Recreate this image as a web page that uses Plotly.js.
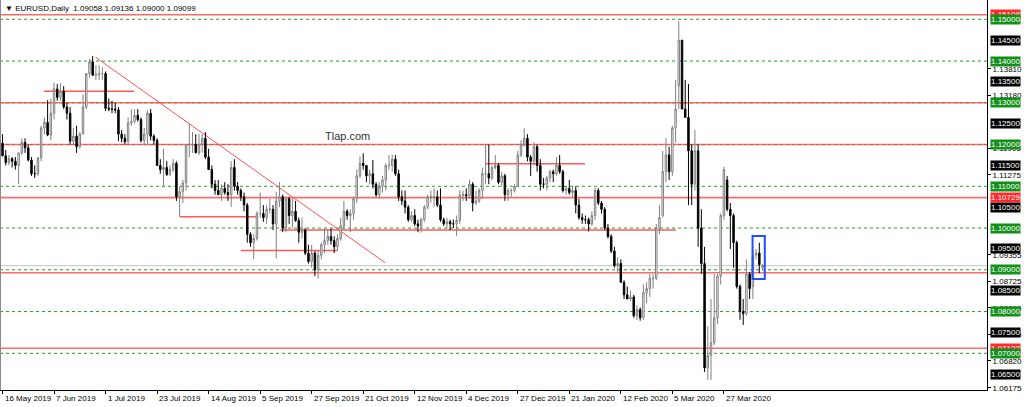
<!DOCTYPE html>
<html>
<head>
<meta charset="utf-8">
<script src="https://cdn.plot.ly/plotly-3.0.1.min.js"></script>
<style>
html,body{margin:0;padding:0;background:#fff;}
#chart{width:1024px;height:407px;}
</style>
</head>
<body>
<div id="chart"></div>
<script>
// ---- EURUSD Daily candles (bar index 0 = 16 May 2019) ----
const opens = [
1.1203,1.1173,1.1157,1.1166,1.1160,1.1150,1.1180,1.1205,1.1192,1.1163,
1.1130,1.1130,1.1168,1.1240,1.1253,1.1223,1.1275,1.1333,1.1313,1.1327,
1.1290,1.1275,1.1208,1.1220,1.1195,1.1225,1.1290,1.1370,1.1398,1.1366,
1.1368,1.1370,1.1370,1.1287,1.1285,1.1285,1.1283,1.1225,1.1215,1.1207,
1.1252,1.1255,1.1270,1.1260,1.1210,1.1225,1.1275,1.1220,1.1210,1.1150,
1.1140,1.1145,1.1128,1.1140,1.1155,1.1075,1.1087,1.1108,1.1200,1.1200,
1.1200,1.1180,1.1200,1.1215,1.1170,1.1140,1.1105,1.1090,1.1080,1.1095,
1.1085,1.1080,1.1145,1.1100,1.1090,1.1075,1.1055,1.0985,1.0965,1.0975,
1.1035,1.1035,1.1025,1.1045,1.1045,1.1010,1.1065,1.1075,1.1000,1.1070,
1.1030,1.1040,1.1018,1.0990,1.0995,1.0940,1.0920,1.0940,1.0900,1.0935,
1.0960,1.0970,1.0980,1.0970,1.0955,1.0975,1.1005,1.1040,1.1030,1.1035,
1.1070,1.1125,1.1155,1.1150,1.1125,1.1130,1.1105,1.1080,1.1100,1.1115,
1.1150,1.1150,1.1165,1.1130,1.1075,1.1065,1.1050,1.1020,1.1030,1.1010,
1.1005,1.1020,1.1050,1.1075,1.1075,1.1075,1.1055,1.1020,1.1010,1.1015,
1.1010,1.1010,1.1018,1.1078,1.1080,1.1077,1.1105,1.1060,1.1065,1.1090,
1.1130,1.1130,1.1120,1.1145,1.1150,1.1110,1.1125,1.1080,1.1090,1.1090,
1.1100,1.1175,1.1200,1.1215,1.1170,1.1160,1.1195,1.1150,1.1105,1.1105,
1.1120,1.1135,1.1130,1.1150,1.1135,1.1090,1.1095,1.1085,1.1090,1.1055,
1.1025,1.1020,1.1020,1.1010,1.1030,1.1090,1.1060,1.1045,1.1000,1.0980,
1.0945,1.0910,1.0915,1.0870,1.0840,1.0830,1.0835,1.0790,1.0805,1.0785,
1.0845,1.0855,1.0880,1.0880,1.1000,1.1030,1.1135,1.1175,1.1135,1.1240,
1.1340,1.1450,1.1285,1.1265,1.1185,1.1105,1.1185,1.1000,1.0915,1.0665,
1.0695,1.0725,1.0785,1.0885,1.1030,1.1115,1.1045,1.1030,1.0965,1.0860,
1.0800,1.0795,1.0890,1.0860,1.0935,1.0940,1.09058];
const highs = [
1.1225,1.1187,1.1175,1.1170,1.1170,1.1180,1.1215,1.1215,1.1200,1.1170,
1.1150,1.1170,1.1245,1.1265,1.1306,1.1310,1.1348,1.1345,1.1347,1.1340,
1.1300,1.1290,1.1240,1.1245,1.1230,1.1320,1.1370,1.1405,1.1412,1.1390,
1.1390,1.1385,1.1375,1.1310,1.1305,1.1300,1.1290,1.1235,1.1225,1.1265,
1.1285,1.1285,1.1285,1.1265,1.1240,1.1282,1.1285,1.1225,1.1215,1.1165,
1.1190,1.1160,1.1150,1.1165,1.1160,1.1100,1.1115,1.1200,1.1250,1.1230,
1.1225,1.1225,1.1225,1.1230,1.1190,1.1150,1.1115,1.1115,1.1105,1.1110,
1.1105,1.1160,1.1165,1.1110,1.1095,1.1085,1.1060,1.0990,1.0985,1.1040,
1.1085,1.1055,1.1055,1.1070,1.1055,1.1087,1.1110,1.1080,1.1075,1.1075,
1.1070,1.1065,1.1025,1.1025,1.1000,1.0960,1.0960,1.0945,1.0945,1.0965,
1.0998,1.0998,1.0999,1.0980,1.0985,1.1025,1.1065,1.1045,1.1045,1.1075,
1.1140,1.1172,1.1179,1.1150,1.1140,1.1163,1.1110,1.1110,1.1125,1.1155,
1.1175,1.1175,1.1175,1.1140,1.1090,1.1090,1.1055,1.1040,1.1045,1.1020,
1.1025,1.1055,1.1080,1.1090,1.1095,1.1090,1.1095,1.1025,1.1025,1.1020,
1.1020,1.1030,1.1090,1.1090,1.1095,1.1116,1.1110,1.1090,1.1095,1.1145,
1.1200,1.1200,1.1150,1.1175,1.1155,1.1135,1.1130,1.1095,1.1095,1.1105,
1.1185,1.1210,1.1239,1.1225,1.1175,1.1205,1.1200,1.1165,1.1120,1.1125,
1.1140,1.1140,1.1170,1.1175,1.1140,1.1100,1.1115,1.1100,1.1100,1.1070,
1.1035,1.1030,1.1025,1.1040,1.1096,1.1095,1.1065,1.1050,1.1010,1.0985,
1.0955,1.0930,1.0925,1.0875,1.0860,1.0850,1.0840,1.0815,1.0810,1.0865,
1.0870,1.0890,1.0890,1.1010,1.1055,1.1185,1.1215,1.1195,1.1245,1.1355,
1.1495,1.1450,1.1355,1.1345,1.1200,1.1235,1.1200,1.1045,1.0955,1.0765,
1.0830,1.0890,1.0890,1.1035,1.1147,1.1125,1.1060,1.1035,1.0970,1.0865,
1.0830,1.0925,1.0895,1.0950,1.0950,1.0965,1.09136];
const lows = [
1.1172,1.1150,1.1150,1.1145,1.1140,1.1105,1.1175,1.1180,1.1160,1.1125,
1.1120,1.1125,1.1160,1.1225,1.1220,1.1210,1.1260,1.1305,1.1305,1.1285,
1.1260,1.1200,1.1200,1.1180,1.1190,1.1225,1.1285,1.1360,1.1365,1.1355,
1.1355,1.1355,1.1280,1.1280,1.1275,1.1275,1.1208,1.1205,1.1200,1.1200,
1.1245,1.1250,1.1255,1.1205,1.1200,1.1200,1.1210,1.1200,1.1150,1.1130,
1.1100,1.1125,1.1125,1.1135,1.1065,1.1027,1.1060,1.1090,1.1170,1.1180,
1.1180,1.1175,1.1180,1.1165,1.1140,1.1095,1.1080,1.1080,1.1065,1.1080,
1.1065,1.1050,1.1090,1.1080,1.1065,1.1040,1.0965,1.0955,1.0926,1.0970,
1.1025,1.1015,1.1010,1.1035,1.0995,1.0927,1.1050,1.0990,1.0990,1.1010,
1.1000,1.1015,1.0965,1.0975,1.0935,1.0915,1.0905,1.0885,1.0879,1.0925,
1.0940,1.0960,1.0960,1.0940,1.0945,1.0970,1.0995,1.1020,1.0990,1.1020,
1.1060,1.1120,1.1140,1.1110,1.1105,1.1095,1.1075,1.1070,1.1085,1.1090,
1.1140,1.1135,1.1125,1.1065,1.1055,1.1035,1.1015,1.1015,1.1005,1.0990,
1.0989,1.1015,1.1045,1.1060,1.1050,1.1050,1.1015,1.1005,1.1000,1.0995,
1.1000,1.0981,1.1010,1.1065,1.1065,1.1070,1.1040,1.1055,1.1060,1.1070,
1.1105,1.1105,1.1115,1.1140,1.1105,1.1100,1.1065,1.1065,1.1075,1.1085,
1.1100,1.1170,1.1195,1.1160,1.1125,1.1150,1.1135,1.1090,1.1095,1.1090,
1.1110,1.1110,1.1125,1.1130,1.1085,1.1080,1.1080,1.1075,1.1035,1.1020,
1.1010,1.1010,1.0992,1.1005,1.1020,1.1055,1.1035,1.0995,1.0975,1.0940,
1.0905,1.0895,1.0870,1.0830,1.0830,1.0825,1.0785,1.0780,1.0778,1.0780,
1.0820,1.0835,1.0855,1.0875,1.0985,1.1025,1.1110,1.1115,1.1125,1.1205,
1.1285,1.1285,1.1265,1.1055,1.1055,1.1090,1.0955,1.0890,1.0655,1.0636,
1.0636,1.0720,1.0770,1.0865,1.1020,1.1040,1.0950,1.0905,1.0855,1.0780,
1.0768,1.0790,1.0830,1.0830,1.0925,1.0892,1.09000];
const closes = [
1.1173,1.1157,1.1166,1.1160,1.1150,1.1180,1.1205,1.1192,1.1163,1.1130,
1.1130,1.1168,1.1240,1.1253,1.1223,1.1275,1.1333,1.1313,1.1327,1.1290,
1.1275,1.1208,1.1220,1.1195,1.1225,1.1290,1.1370,1.1398,1.1366,1.1368,
1.1370,1.1370,1.1287,1.1285,1.1285,1.1283,1.1225,1.1215,1.1207,1.1252,
1.1255,1.1270,1.1260,1.1210,1.1225,1.1275,1.1220,1.1210,1.1150,1.1140,
1.1145,1.1128,1.1140,1.1155,1.1075,1.1087,1.1108,1.1200,1.1200,1.1200,
1.1180,1.1200,1.1215,1.1170,1.1140,1.1105,1.1090,1.1080,1.1095,1.1085,
1.1080,1.1145,1.1100,1.1090,1.1075,1.1055,1.0985,1.0965,1.0975,1.1035,
1.1035,1.1025,1.1045,1.1045,1.1010,1.1065,1.1075,1.1000,1.1070,1.1030,
1.1040,1.1018,1.0990,1.0995,1.0940,1.0920,1.0940,1.0900,1.0935,1.0960,
1.0970,1.0980,1.0970,1.0955,1.0975,1.1005,1.1040,1.1030,1.1035,1.1070,
1.1125,1.1155,1.1150,1.1125,1.1130,1.1105,1.1080,1.1100,1.1115,1.1150,
1.1150,1.1165,1.1130,1.1075,1.1065,1.1050,1.1020,1.1030,1.1010,1.1005,
1.1020,1.1050,1.1075,1.1075,1.1075,1.1055,1.1020,1.1010,1.1015,1.1010,
1.1010,1.1018,1.1078,1.1080,1.1077,1.1105,1.1060,1.1065,1.1090,1.1130,
1.1130,1.1120,1.1145,1.1150,1.1110,1.1125,1.1080,1.1090,1.1090,1.1100,
1.1175,1.1200,1.1215,1.1170,1.1160,1.1195,1.1150,1.1105,1.1105,1.1120,
1.1135,1.1130,1.1150,1.1135,1.1090,1.1095,1.1085,1.1090,1.1055,1.1025,
1.1020,1.1020,1.1010,1.1030,1.1090,1.1060,1.1045,1.1000,1.0980,1.0945,
1.0910,1.0915,1.0870,1.0840,1.0830,1.0835,1.0790,1.0805,1.0785,1.0845,
1.0855,1.0880,1.0880,1.1000,1.1025,1.1135,1.1175,1.1135,1.1240,1.1285,
1.1450,1.1285,1.1265,1.1185,1.1105,1.1185,1.1000,1.0915,1.0665,1.0695,
1.0725,1.0785,1.0885,1.1030,1.1140,1.1045,1.1030,1.0965,1.0860,1.0800,
1.0795,1.0890,1.0855,1.0935,1.0940,1.0912,1.09099];

// ---- axis labels ----
const dateTickIdx = [0,16,32,48,64,80,96,112,128,144,160,176,192,208,224];
const dateTickText = ["16 May 2019","7 Jun 2019","1 Jul 2019","23 Jul 2019","14 Aug 2019","5 Sep 2019",
  "27 Sep 2019","21 Oct 2019","12 Nov 2019","4 Dec 2019","27 Dec 2019","21 Jan 2020","12 Feb 2020",
  "5 Mar 2020","27 Mar 2020"];
const plainPriceTicks = [1.13810,1.13180,1.11905,1.11275,1.09355,1.08725,1.08090,1.07455,1.06820,1.06175];
const blackPriceLabels = [1.145,1.135,1.125,1.115,1.105,1.095,1.085,1.075,1.065];
const redPriceLabels = [1.15108,1.10729,1.07122];
const greenPriceLabels = [1.15,1.14,1.13,1.12,1.11,1.10,1.09,1.08,1.07];

// ---- drawn analysis objects ----
const greenDashLevels = [1.15,1.14,1.13,1.12,1.11,1.10,1.09,1.08,1.07];
const redLevels = [1.15108,1.1300,1.1200,1.10729,1.0893,1.07122];
// short red segments: start bar, end bar, price
const redSegStart = [12.9, 55.1, 74.0, 86.2, 150.1];
const redSegEnd   = [40.8, 79.3, 103.9, 209.1, 180.9];
const redSegPrice = [1.13275, 1.10272, 1.09461, 1.09953, 1.11541];
const trendBars = [28.9, 118.8];
const trendPrices = [1.1409, 1.0917];
const boxBars = [232.9, 236.7];
const boxPrices = [1.0878, 1.0981];
const bidPrice = 1.09099;

const FONT = 'Liberation Sans, Arial, sans-serif';
const idx = opens.map((_, i) => i);

const trace = {
  type: 'candlestick',
  x: idx, open: opens, high: highs, low: lows, close: closes,
  increasing: {line: {color: '#808080', width: 1}, fillcolor: '#ffffff'},
  decreasing: {line: {color: '#000000', width: 1}, fillcolor: '#000000'},
  whiskerwidth: 0,
  hoverinfo: 'skip'
};

const shapes = [];
greenDashLevels.forEach(p => shapes.push({type:'line', xref:'paper', x0:0, x1:1, yref:'y', y0:p, y1:p,
  line:{color:'#22a022', width:1, dash:'3px,3px'}, layer:'below'}));
shapes.push({type:'line', xref:'paper', x0:0, x1:1, yref:'y', y0:bidPrice, y1:bidPrice,
  line:{color:'#c4c4c4', width:1}, layer:'below'});
redLevels.forEach(p => shapes.push({type:'line', xref:'paper', x0:0, x1:1, yref:'y', y0:p, y1:p,
  line:{color:'rgba(255,70,70,0.8)', width:1.6}, layer:'below'}));
redSegPrice.forEach((p, i) => shapes.push({type:'line', xref:'x', x0:redSegStart[i], x1:redSegEnd[i],
  yref:'y', y0:p, y1:p, line:{color:'rgba(255,60,60,0.85)', width:1.6}, layer:'below'}));
shapes.push({type:'line', xref:'x', x0:trendBars[0], x1:trendBars[1], yref:'y', y0:trendPrices[0], y1:trendPrices[1],
  line:{color:'#ff5050', width:1}, layer:'below'});
shapes.push({type:'rect', xref:'x', x0:boxBars[0], x1:boxBars[1], yref:'y', y0:boxPrices[0], y1:boxPrices[1],
  line:{color:'#1f4fff', width:2}, fillcolor:'rgba(0,0,0,0)'});
shapes.push({type:'line', xref:'paper', x0:0, x1:0, yref:'paper', y0:0, y1:1,
  line:{color:'#8a8a8a', width:2}});

const annotations = [];
function priceLabel(p, bg) {
  annotations.push({xref:'paper', x:1, xanchor:'left', xshift:3, yref:'y', y:p, yanchor:'middle',
    text:p.toFixed(5), showarrow:false, bgcolor:bg, borderpad:0,
    font:{family:FONT, size:8, color:'#ffffff'}});
}
blackPriceLabels.forEach(p => priceLabel(p, '#000000'));
redPriceLabels.forEach(p => priceLabel(p, '#ff2a2a'));
greenPriceLabels.forEach(p => priceLabel(p, '#13901a'));
dateTickIdx.forEach((b, i) => annotations.push({xref:'x', x:b, xanchor:'left', xshift:0,
  yref:'paper', y:0, yanchor:'top', yshift:-2, text:dateTickText[i], showarrow:false,
  font:{family:FONT, size:8, color:'#000000'}}));
annotations.push({xref:'paper', x:0, xanchor:'left', xshift:3, yref:'paper', y:1, yanchor:'top', yshift:-2,
  text:'\u25BC EURUSD,Daily  1.09058 1.09136 1.09000 1.09099', showarrow:false,
  font:{family:FONT, size:8, color:'#000000'}});
annotations.push({xref:'x', x:107.0, xanchor:'center', yref:'y', y:1.1221, yanchor:'middle',
  text:'Tlap.com', showarrow:false,
  font:{family:FONT, size:11, color:'#333333'}});

const layout = {
  width:1024, height:407,
  margin:{l:0, r:37, t:0, b:17, pad:0},
  paper_bgcolor:'#ffffff', plot_bgcolor:'#ffffff',
  showlegend:false,
  boxgap:0.35,
  xaxis:{
    range:[-0.78, 305.7], showgrid:false, zeroline:false, fixedrange:true,
    rangeslider:{visible:false},
    tickvals:dateTickIdx, ticktext:dateTickText, showticklabels:false,
    ticks:'outside', ticklen:3, tickcolor:'#000', tickwidth:1,
    showline:true, linecolor:'#000', linewidth:1,
    automargin:false
  },
  yaxis:{
    side:'right', range:[1.06121, 1.154623], showgrid:false, zeroline:false, fixedrange:true,
    tickvals:plainPriceTicks, ticktext:plainPriceTicks.map(v => v.toFixed(5)),
    ticks:'outside', ticklen:3, tickcolor:'#000', tickwidth:1,
    showline:true, linecolor:'#000', linewidth:1,
    tickfont:{family:FONT, size:8, color:'#000'},
    automargin:false
  },
  shapes:shapes, annotations:annotations
};

Plotly.newPlot('chart', [trace], layout, {staticPlot:true, displayModeBar:false});
</script>
</body>
</html>
